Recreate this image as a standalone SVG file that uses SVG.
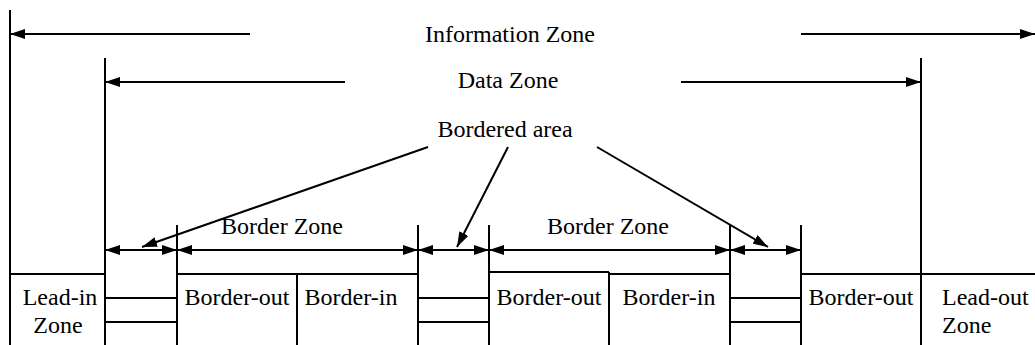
<svg xmlns="http://www.w3.org/2000/svg" width="1035" height="345" viewBox="0 0 1035 345">
<style>
text{font-family:'Liberation Serif','Noto Serif','DejaVu Serif',serif;font-size:24px;fill:#000}
.m{text-anchor:middle}
.k{stroke:#000;stroke-width:2;fill:none}
.a{marker-end:url(#ah)}
.d{marker-start:url(#ah);marker-end:url(#ah)}
</style>
<defs>
<marker id="ah" viewBox="0 0 15 10" refX="15" refY="5" markerWidth="15" markerHeight="10" markerUnits="userSpaceOnUse" orient="auto-start-reverse">
<path d="M0,0 L15,5 L0,10 z" fill="#000"/>
</marker>
</defs>
<rect width="1035" height="345" fill="#fff"/>
<g id="structure" class="k">
<line x1="10" y1="10" x2="10" y2="345"/>
<line x1="105" y1="58" x2="105" y2="345"/>
<line x1="921" y1="58" x2="921" y2="345"/>
<line x1="177" y1="225" x2="177" y2="345"/>
<line x1="297" y1="274" x2="297" y2="345"/>
<line x1="418" y1="225" x2="418" y2="345"/>
<line x1="489" y1="225" x2="489" y2="345"/>
<line x1="609" y1="272" x2="609" y2="345"/>
<line x1="730" y1="225" x2="730" y2="345"/>
<line x1="801" y1="225" x2="801" y2="345"/>
<line x1="10" y1="274" x2="105" y2="274"/>
<line x1="177" y1="274" x2="418" y2="274"/>
<line x1="489" y1="272" x2="609" y2="272"/>
<line x1="609" y1="274" x2="730" y2="274"/>
<line x1="801" y1="274" x2="1035" y2="274"/>
<line x1="105" y1="298" x2="177" y2="298"/>
<line x1="105" y1="322" x2="177" y2="322"/>
<line x1="418" y1="298" x2="489" y2="298"/>
<line x1="418" y1="322" x2="489" y2="322"/>
<line x1="730" y1="298" x2="801" y2="298"/>
<line x1="730" y1="322" x2="801" y2="322"/>
</g>
<g id="connectors" class="k">
<line class="a" x1="250" y1="34" x2="10" y2="34"/>
<line class="a" x1="801" y1="34" x2="1035" y2="34"/>
<line class="a" x1="345" y1="82" x2="105" y2="82"/>
<line class="a" x1="681" y1="82" x2="921" y2="82"/>
<line class="d" x1="105" y1="250" x2="177" y2="250"/>
<line class="d" x1="177" y1="250" x2="418" y2="250"/>
<line class="d" x1="418" y1="250" x2="489" y2="250"/>
<line class="d" x1="489" y1="250" x2="730" y2="250"/>
<line class="d" x1="730" y1="250" x2="801" y2="250"/>
<line class="a" x1="428" y1="147" x2="142" y2="247"/>
<line class="a" x1="508" y1="147" x2="457" y2="247"/>
<line class="a" x1="597" y1="147" x2="768" y2="247"/>
</g>
<g id="labels">
<text class="m" x="510" y="42">Information Zone</text>
<text class="m" x="508" y="88">Data Zone</text>
<text class="m" x="505" y="137">Bordered area</text>
<text class="m" x="282" y="234">Border Zone</text>
<text class="m" x="608" y="234">Border Zone</text>
</g>
<g id="lead-in"><text class="m" x="60" y="305">Lead-in</text><text class="m" x="58" y="333">Zone</text></g>
<g id="border-out-1"><text class="m" x="237" y="305">Border-out</text></g>
<g id="border-in-1"><text class="m" x="351" y="305">Border-in</text></g>
<g id="border-out-2"><text class="m" x="549" y="305">Border-out</text></g>
<g id="border-in-2"><text class="m" x="669" y="305">Border-in</text></g>
<g id="border-out-3"><text class="m" x="861" y="305">Border-out</text></g>
<g id="lead-out"><text x="942" y="305">Lead-out</text><text x="942" y="333">Zone</text></g>
</svg>
